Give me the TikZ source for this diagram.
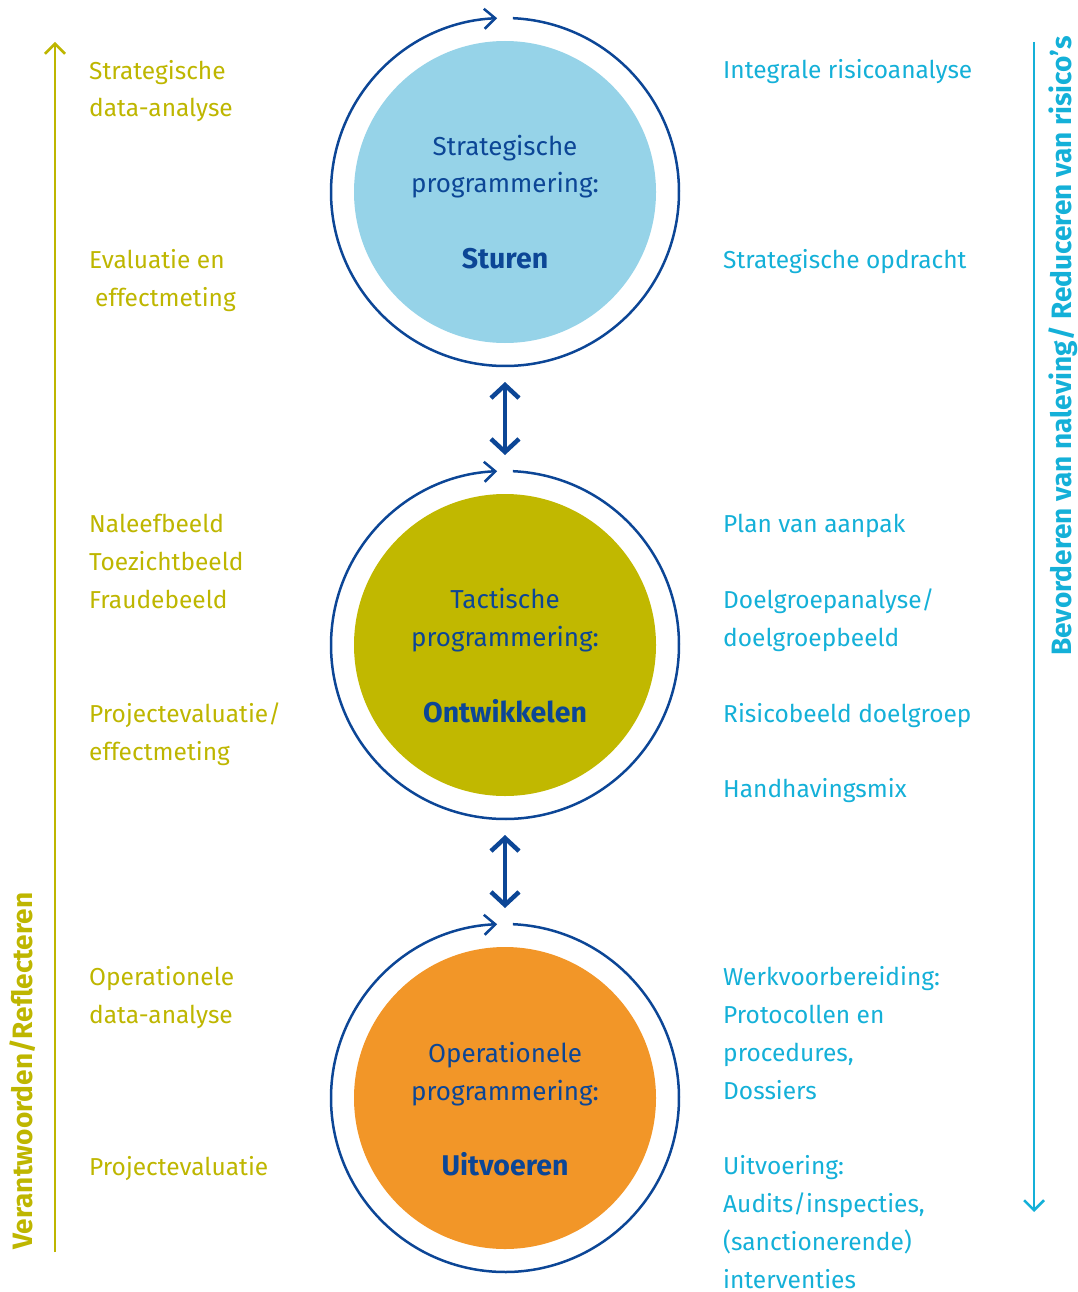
\documentclass[tikz,border=0pt]{standalone}
\usepackage{fontspec}
\setmainfont{Fira Sans}
\usetikzlibrary{arrows.meta}
\definecolor{olive}{RGB}{190,182,0}
\definecolor{oliveFill}{RGB}{193,184,0}
\definecolor{cyanT}{RGB}{20,176,216}
\definecolor{dblue}{RGB}{12,70,150}
\definecolor{lblue}{RGB}{150,211,232}
\definecolor{orangeF}{RGB}{242,150,40}
\tikzset{
  lefttxt/.style={anchor=base west,align=left,text=olive,font=\fontsize{24.5}{37.8}\selectfont,inner sep=0pt},
  righttxt/.style={anchor=base west,align=left,text=cyanT,font=\fontsize{24.5}{37.8}\selectfont,inner sep=0pt},
  ctxt/.style={anchor=base,align=center,text=dblue,font=\fontsize{26}{37.8}\selectfont,inner sep=0pt},
  cbold/.style={anchor=base,text=dblue,font=\fontsize{28.5}{30}\selectfont\bfseries,inner sep=0pt},
  disc/.style={circle,minimum size=302pt,inner sep=0pt},
  ring/.style={draw=dblue,line width=2.5pt,-{Straight Barb[length=11pt,width=20pt,line width=2.5pt]}},
  dbl/.style={draw=dblue,line width=4.5pt,{Straight Barb[length=13pt,width=28pt,line width=4.5pt]}-{Straight Barb[length=13pt,width=28pt,line width=4.5pt]}},
  sidebar/.style={line width=2.5pt},
  sidetxt/.style={rotate=90,font=\fontsize{28}{30}\selectfont\bfseries,inner sep=0pt}
}
\begin{document}
\begin{tikzpicture}[x=1pt,y=-1pt]
\useasboundingbox (0,0) rectangle (1078,1292);
% discs
\node[disc,fill=lblue] (c1) at (505,192) {};
\node[disc,fill=oliveFill] (c2) at (505,645) {};
\node[disc,fill=orangeF] (c3) at (505,1098) {};
% rings
\foreach \c in {c1,c2,c3}{
  \draw[ring] ([shift={(-87.4:174)}]\c.center) arc[start angle=-87.4,end angle=267.4,radius=174];
}
% double arrows between rings
\coordinate (a1s) at (505,382);
\coordinate (a1e) at (505,455);
\coordinate (a2s) at (505,835);
\coordinate (a2e) at (505,908);
\draw[dbl] (a1s) -- (a1e);
\draw[dbl] (a2s) -- (a2e);
% circle texts (base = last line)
\node[ctxt] (t1) at (505,193) {Strategische\\programmering:};
\node[cbold] (b1) at (505,268) {Sturen};
\node[ctxt] (t2) at (505,646) {Tactische\\programmering:};
\node[cbold] (b2) at (505,722) {Ontwikkelen};
\node[ctxt] (t3) at (505,1100) {Operationele\\programmering:};
\node[cbold] (b3) at (505,1175) {Uitvoeren};
% left texts
\node[lefttxt] (l1) at (89,117) {Strategische\\data-analyse};
\node[lefttxt] (l2) at (89,306) {Evaluatie en\\\hspace*{6pt}effectmeting};
\node[lefttxt] (l3) at (89,608) {Naleefbeeld\\Toezichtbeeld\\Fraudebeeld};
\node[lefttxt] (l4) at (89,760) {Projectevaluatie/\\effectmeting};
\node[lefttxt] (l5) at (89,1023) {Operationele\\data-analyse};
\node[lefttxt] (l6) at (89,1175) {Projectevaluatie};
% right texts
\node[righttxt] (r1) at (723,79) {Integrale risicoanalyse};
\node[righttxt] (r2) at (723,268) {Strategische opdracht};
\node[righttxt] (r3) at (723,532) {Plan van aanpak};
\node[righttxt] (r4) at (723,646) {Doelgroepanalyse/\\doelgroepbeeld};
\node[righttxt] (r5) at (723,722) {Risicobeeld doelgroep};
\node[righttxt] (r6) at (723,797) {Handhavingsmix};
\node[righttxt] (r7) at (723,1099) {Werkvoorbereiding:\\Protocollen en\\procedures,\\Dossiers};
\node[righttxt] (r8) at (723,1288) {Uitvoering:\\Audits/inspecties,\\(sanctionerende)\\interventies};
% side arrows
\coordinate (lb) at (55,1252);
\coordinate (lt) at (55,42);
\draw[sidebar,draw=olive,-{Straight Barb[length=10pt,width=20pt,line width=2.5pt]}] (lb) -- (lt);
\coordinate (rt) at (1034,42);
\coordinate (rb) at (1034,1212);
\draw[sidebar,draw=cyanT,-{Straight Barb[length=10pt,width=20pt,line width=2.5pt]}] (rt) -- (rb);
\node[sidetxt,text=olive] (ls) at (23,1071) {Verantwoorden/Reflecteren};
\node[sidetxt,text=cyanT] (rs) at (1063,346) {Bevorderen van naleving/ Reduceren van risico’s};
\end{tikzpicture}
\end{document}
